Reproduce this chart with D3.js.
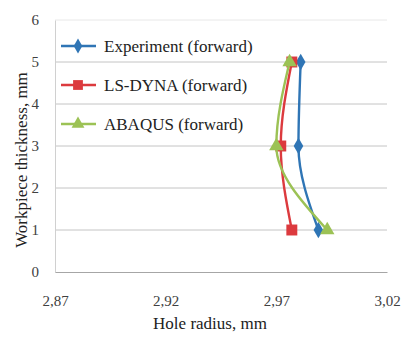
<!DOCTYPE html>
<html>
<head>
<meta charset="utf-8">
<script src="https://cdn.jsdelivr.net/npm/d3@7"></script>
<style>
  html,body{margin:0;padding:0;background:#fff;}
  svg{display:block;}
  svg text{font-family:"Liberation Serif","Times New Roman",serif;}
</style>
</head>
<body>
<div id="chart"></div>
<script>
// Werte
const thickness = [5, 3, 1];
const experiment = [2.981, 2.980, 2.989];
const lsdyna = [2.977, 2.972, 2.977];
const abaqus = [2.976, 2.970, 2.993];
const xTicks = [2.87, 2.92, 2.97, 3.02];
const yTicks = [0, 1, 2, 3, 4, 5, 6];
const seriesNames = ["Experiment (forward)", "LS-DYNA (forward)", "ABAQUS (forward)"];

const W = 403, H = 338, m = {l:55, r:16, t:20, b:66};
const svg = d3.select("#chart").append("svg").attr("width", W).attr("height", H);

const x = d3.scaleLinear().domain([2.87, 3.02]).range([m.l, W - m.r]);
const y = d3.scaleLinear().domain([0, 6]).range([H - m.b, m.t]);

// Gitterlinien
svg.append("g").selectAll("line").data(yTicks.filter(d => d > 0)).join("line")
  .attr("x1", m.l).attr("x2", W - m.r)
  .attr("y1", d => y(d)).attr("y2", d => y(d))
  .attr("stroke", d => d === 6 ? "#e8e8e8" : "#c4c4c4").attr("stroke-width", 1);

// Achsen
const ay = d3.axisLeft(y).tickValues(yTicks).tickSize(0).tickPadding(16).tickFormat(d3.format("d"));
svg.append("g").attr("transform", `translate(${m.l},0)`).call(ay)
  .call(g => g.select(".domain").attr("stroke", "#d0d0d0"))
  .call(g => g.selectAll("text").attr("font-size", 15).attr("fill", "#404040")
    .attr("font-family", "Liberation Serif, serif"));

const ax = d3.axisBottom(x).tickValues(xTicks).tickSize(0).tickPadding(23)
  .tickFormat(d => d3.format(".2f")(d).replace(".", ","));
svg.append("g").attr("transform", `translate(0,${y(0)})`).call(ax)
  .call(g => g.select(".domain").attr("stroke", "#a6a6a6"))
  .call(g => g.selectAll("text").attr("font-size", 15).attr("fill", "#404040")
    .attr("font-family", "Liberation Serif, serif"));

// Achsentitel
svg.append("text").attr("x", 210).attr("y", 329).attr("text-anchor", "middle")
  .attr("font-size", 17).attr("fill", "#222").text("Hole radius, mm");
svg.append("text").attr("transform", "translate(27,160) rotate(-90)").attr("text-anchor", "middle")
  .attr("font-size", 17).attr("fill", "#222").text("Workpiece thickness, mm");

// Serien
const series = [
  {name: seriesNames[0], vals: experiment, color: "#2f75b5", shape: d3.symbolDiamond, size: 80},
  {name: seriesNames[1], vals: lsdyna, color: "#dc3a3e", shape: d3.symbolSquare, size: 120},
  {name: seriesNames[2], vals: abaqus, color: "#9cc255", shape: d3.symbolTriangle, size: 90}
];

const line = d3.line().x(d => x(d.v)).y(d => y(d.t)).curve(d3.curveMonotoneY);

series.forEach(s => {
  const pts = s.vals.map((v, i) => ({v, t: thickness[i]})).sort((a, b) => a.t - b.t);
  svg.append("path").datum(pts).attr("d", line)
    .attr("fill", "none").attr("stroke", s.color).attr("stroke-width", 2.4);
  svg.append("g").selectAll("path").data(pts).join("path")
    .attr("transform", d => `translate(${x(d.v)},${y(d.t)})`)
    .attr("d", d3.symbol().type(s.shape).size(s.size))
    .attr("fill", s.color);
});

// Legende
const lg = svg.append("g");
const legY = [46, 85, 124];
series.forEach((s, i) => {
  const g = lg.append("g").attr("transform", `translate(0,${legY[i]})`);
  g.append("line").attr("x1", 61).attr("x2", 96).attr("stroke", s.color).attr("stroke-width", 2.4);
  g.append("path").attr("transform", "translate(78,0)")
    .attr("d", d3.symbol().type(s.shape).size(s.size * 0.8)).attr("fill", s.color);
  g.append("text").attr("x", 104).attr("y", 5.5).attr("font-size", 17).attr("fill", "#222").text(s.name);
});
</script>
</body>
</html>
